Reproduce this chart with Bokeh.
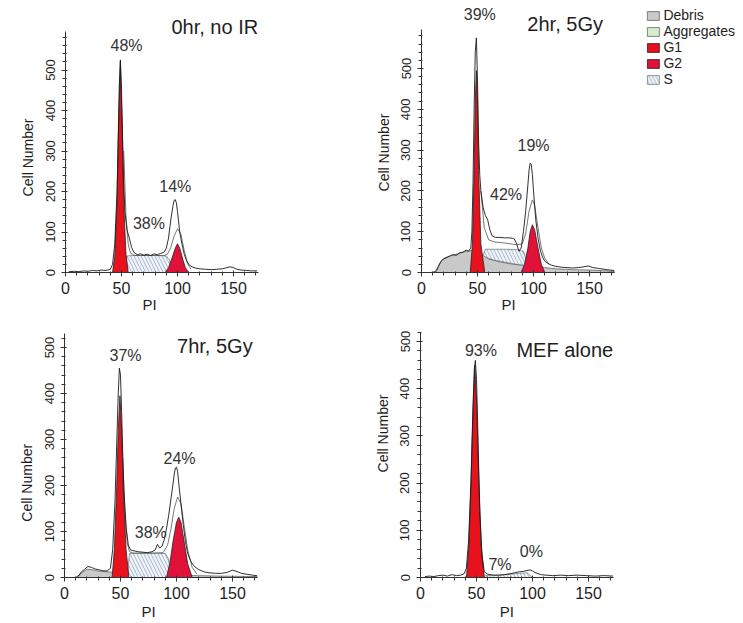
import math
from bokeh.plotting import figure
from bokeh.models import Label, SingleIntervalTicker, Legend, LegendItem, LinearAxis
from bokeh.layouts import row, column
from bokeh.embed import file_html
from bokeh.resources import INLINE

FONT = "Liberation Sans"

# ---------------- Panel A : 0hr, no IR ----------------
A_X = [3, 8, 12, 16, 20, 24, 28, 32, 36, 40, 42, 44, 46, 47, 48, 49, 50, 51, 52, 53,
       55, 57, 59, 61, 64, 67, 70, 73, 76, 79, 82, 85, 88, 90, 92, 94, 96, 97, 98, 99,
       100, 101, 102, 104, 106, 108, 110, 113, 116, 120, 125, 130, 135, 140, 144, 147, 150, 153, 157, 162,
       166, 171]
A_N = [2, 3, 2, 4, 3, 5, 4, 6, 5, 8, 20, 70, 200, 330, 460, 525, 450, 330, 220, 150,
       104, 85, 62, 50, 44, 46, 43, 45, 42, 46, 44, 47, 50, 60, 85, 130, 165, 178, 180, 172,
       150, 125, 100, 70, 45, 30, 20, 14, 11, 9, 8, 7, 8, 9, 12, 14, 12, 8, 6, 5,
       4, 4]
A_FIT_X = [52, 54, 56, 58, 62, 70, 80, 88, 91, 94, 97, 100, 103, 106, 109, 112]
A_FIT_Y = [300, 140, 70, 48, 42, 42, 42, 42, 45, 62, 90, 108, 95, 55, 22, 8]
A_G1_X = [42, 44, 46, 47.5, 49, 50.5, 52, 54, 56]
A_G1_Y = [0, 40, 170, 370, 520, 370, 170, 45, 0]
A_G2_X = [89, 92, 95, 98, 100, 102, 105, 107, 110]
A_G2_Y = [0, 12, 35, 60, 71, 60, 30, 12, 0]
A_S_X = [53, 55, 60, 70, 80, 90, 93, 95]
A_S_TOP = [0, 41, 42, 42, 42, 41, 30, 0]
A_S_BOT = [0, 0, 0, 0, 0, 0, 0, 0]
A_PCT = ["48%", "38%", "14%"]
A_PCT_X = [54.5, 74.5, 98]
A_PCT_Y = [560, 121, 212]

# ---------------- Panel B : 2hr, 5Gy ----------------
B_X = [8, 11, 13, 15, 17, 19, 22, 25, 28, 31, 34, 37, 40, 42, 44, 45, 46, 47, 48, 49,
       50, 51, 52, 53, 55, 57, 59, 61, 63, 66, 70, 74, 78, 81, 83, 85, 87, 89, 91, 93,
       95, 96, 97, 98, 99, 100, 102, 104, 106, 108, 110, 113, 116, 120, 125, 130, 135, 140, 145, 149,
       153, 158, 163, 168, 172]
B_N = [0, 1, 4, 15, 25, 32, 36, 40, 44, 42, 48, 50, 55, 52, 60, 100, 220, 400, 540, 575,
       470, 320, 240, 200, 160, 140, 130, 105, 90, 86, 86, 85, 85, 84, 82, 70, 52, 60, 100, 150,
       215, 250, 268, 265, 240, 200, 130, 85, 55, 38, 28, 22, 18, 15, 13, 12, 11, 12, 14, 16,
       12, 10, 8, 6, 5]
B_FIT_X = [53, 56, 60, 65, 75, 85, 90, 93, 96, 99, 101, 104, 107, 110, 114]
B_FIT_Y = [200, 110, 80, 75, 72, 68, 70, 95, 150, 178, 165, 110, 60, 35, 20]
B_DEB_X = [12, 14, 16, 18, 21, 25, 30, 35, 40, 45, 50, 55, 60, 70, 80, 90, 100, 110, 120, 135, 150, 165, 172]
B_DEB_Y = [0, 5, 20, 30, 36, 40, 44, 48, 52, 54, 52, 42, 33, 26, 21, 18, 15, 12, 9, 7, 6, 4, 3]
B_AGG_X = [108, 115, 130, 150, 172]
B_AGG_Y = [0, 2, 3, 3, 2]
B_G1_X = [43.5, 45.5, 47, 48, 49, 50, 51, 53, 56.5]
B_G1_Y = [0, 70, 250, 420, 495, 420, 250, 70, 0]
B_G2_X = [89, 92, 95, 97, 99, 101, 104, 107, 110]
B_G2_Y = [0, 20, 60, 100, 117, 105, 60, 20, 0]
B_S_X = [55, 57, 65, 75, 85, 91, 95]
B_S_TOP = [42, 57, 57, 57, 56, 52, 17]
B_S_BOT = [42, 38, 30, 25, 20, 18, 17]
B_PCT = ["39%", "42%", "19%"]
B_PCT_X = [52, 75.5, 100]
B_PCT_Y = [632, 191, 311]

# ---------------- Panel C : 7hr, 5Gy ----------------
C_X = [10, 13, 15, 18, 21, 24, 27, 30, 34, 38, 41, 43, 45, 46, 47, 48, 49, 50, 51, 52,
       53, 55, 57, 59, 62, 66, 70, 74, 78, 81, 83, 85, 87, 89, 91, 93, 95, 97, 98, 99,
       100, 101, 102, 104, 106, 108, 110, 113, 116, 120, 125, 130, 135, 140, 145, 150, 154, 158, 163, 168,
       172]
C_N = [0, 5, 12, 18, 24, 22, 19, 17, 15, 14, 20, 60, 160, 240, 320, 400, 455, 440, 360, 270,
       190, 110, 70, 60, 58, 56, 55, 54, 56, 60, 72, 64, 68, 82, 105, 135, 170, 205, 225, 238,
       240, 230, 205, 160, 115, 78, 52, 34, 24, 17, 12, 10, 9, 9, 11, 16, 13, 9, 7, 5,
       4]
C_FIT_X = [52, 54, 56, 58, 62, 70, 80, 88, 92, 95, 98, 101, 104, 107, 110, 114, 118]
C_FIT_Y = [260, 140, 75, 56, 53, 53, 53, 54, 70, 105, 150, 175, 160, 110, 60, 22, 8]
C_DEB_X = [12, 15, 20, 25, 30, 40, 50, 60, 80, 100, 120, 140, 172]
C_DEB_Y = [0, 10, 18, 17, 14, 12, 10, 8, 6, 5, 4, 3, 2]
C_G1_X = [42.5, 44.5, 46.5, 48, 49.5, 51, 52.5, 55, 57.5]
C_G1_Y = [0, 60, 190, 320, 395, 320, 190, 60, 0]
C_G2_X = [91, 94, 97, 100, 102, 104, 107, 110, 114]
C_G2_Y = [0, 30, 80, 120, 131, 120, 75, 30, 0]
C_S_X = [56, 58, 70, 80, 90, 93, 95]
C_S_TOP = [0, 52, 53, 53, 52, 40, 0]
C_S_BOT = [0, 0, 0, 0, 0, 0, 0]
C_PCT = ["37%", "38%", "24%"]
C_PCT_X = [54.5, 77, 102.7]
C_PCT_Y = [483, 98, 259]

# ---------------- Panel D : MEF alone ----------------
D_X = [4, 8, 12, 16, 20, 24, 28, 32, 36, 39, 41, 43, 45, 46, 47, 48, 49, 50, 51, 52,
       53, 55, 57, 60, 65, 70, 75, 80, 84, 88, 92, 95, 98, 100, 102, 105, 108, 112, 118, 125,
       132, 140, 148, 156, 164, 172]
D_N = [2, 3, 2, 4, 5, 3, 6, 4, 5, 8, 20, 80, 200, 290, 370, 440, 460, 420, 330, 230,
       140, 45, 12, 7, 5, 5, 6, 8, 10, 12, 13, 15, 16, 14, 11, 8, 6, 5, 4, 5,
       4, 5, 4, 3, 4, 3]
D_G1_X = [41, 43, 45, 47, 48.5, 50, 52, 54, 57]
D_G1_Y = [0, 60, 190, 360, 450, 380, 210, 70, 0]
D_S_X = [55, 58, 70, 85, 95, 100]
D_S_TOP = [0, 4, 5, 8, 10, 0]
D_S_BOT = [0, 0, 0, 0, 0, 0]
D_PCT = ["93%", "7%", "0%"]
D_PCT_X = [54, 71, 99]
D_PCT_Y = [481, 27, 55]

TITLES = ["0hr, no IR", "2hr, 5Gy", "7hr, 5Gy", "MEF alone"]
TITLE_X = [172, 162, 168, 172]
TITLE_Y = [605, 608, 504, 483]
YLAB_Y = [284, 294, 206, 305]
XLAB_X = [75, 77.7, 75, 77]
Y_MAX_TICK = [595, 595, 530, 520]

LEGEND_LABELS = ["Debris", "Aggregates", "G1", "G2", "S"]

C_DEBRIS = "#c9c9c9"
C_AGG = "#d4eecb"
C_G1 = "#e8121c"
C_G2 = "#e0123a"
C_S = "#f1f5fa"
C_HATCH = "#8ea6c2"
C_TXT = "#1e1e1e"


def make_fig(width, height, x0_px, y0_px, px_per_x, px_per_y, y_bound):
    """Frame covers the whole figure; axes are drawn at data zero."""
    x_start = -x0_px / px_per_x
    x_end = (width - x0_px) / px_per_x
    y_end = y0_px / px_per_y
    y_start = -(height - y0_px) / px_per_y
    p = figure(width=width, height=height, x_range=(x_start, x_end), y_range=(y_start, y_end),
               output_backend="svg", toolbar_location=None,
               x_axis_location=None, y_axis_location=None,
               min_border_left=0, min_border_right=0, min_border_top=0, min_border_bottom=0)
    p.outline_line_color = None
    p.xgrid.grid_line_color = None
    p.ygrid.grid_line_color = None
    p.background_fill_color = "white"
    p.border_fill_color = "white"
    xa = LinearAxis(fixed_location=0, bounds=(0, 172),
                    ticker=SingleIntervalTicker(interval=50, num_minor_ticks=5))
    ya = LinearAxis(fixed_location=0, bounds=(0, y_bound),
                    ticker=SingleIntervalTicker(interval=100, num_minor_ticks=5))
    for ax in (xa, ya):
        ax.axis_line_color = "#333333"
        ax.axis_line_width = 1
        ax.major_tick_line_color = "#333333"
        ax.minor_tick_line_color = "#333333"
        ax.major_tick_out = 4
        ax.major_tick_in = 2
        ax.minor_tick_out = 3
        ax.minor_tick_in = 1
        ax.major_label_text_font = FONT
        ax.major_label_text_color = C_TXT
    xa.major_label_text_font_size = "16px"
    xa.major_label_standoff = 5
    ya.major_label_text_font_size = "13px"
    ya.major_label_orientation = "vertical"
    ya.major_label_standoff = 7
    p.add_layout(xa, "below")
    p.add_layout(ya, "left")
    return p


def add_texts(p, idx, pct, pct_x, pct_y, xlab_off):
    p.add_layout(Label(x=TITLE_X[idx], y=TITLE_Y[idx], text=TITLES[idx], text_align="right",
                       text_baseline="middle", text_font=FONT, text_font_size="20px",
                       text_color=C_TXT))
    for t, xx, yy in zip(pct, pct_x, pct_y):
        p.add_layout(Label(x=xx, y=yy, text=t, text_align="center", text_baseline="middle",
                           text_font=FONT, text_font_size="16px", text_color="#333333"))
    p.add_layout(Label(x=0, y=YLAB_Y[idx], x_offset=-38, angle=math.pi / 2, text="Cell Number",
                       text_align="center", text_baseline="middle", text_font=FONT,
                       text_font_size="14px", text_color=C_TXT))
    p.add_layout(Label(x=XLAB_X[idx], y=0, y_offset=xlab_off, text="PI", text_align="center",
                       text_baseline="middle", text_font=FONT, text_font_size="15px",
                       text_color=C_TXT))


def draw_panel(p, xs, ns, g1x, g1y, g2x, g2y, sx, stop, sbot, fitx=None, fity=None,
               debx=None, deby=None):
    rend = {}
    if debx is not None:
        rend["deb"] = p.patch(debx + [debx[-1], debx[0]], deby + [0, 0], fill_color=C_DEBRIS,
                              line_color="#555555", line_width=0.7)
    rend["s"] = p.patch(sx + sx[::-1], stop + sbot[::-1], fill_color=C_S, line_color="#555555",
                        line_width=0.6, hatch_pattern="left_diagonal_line", hatch_color=C_HATCH,
                        hatch_scale=7, hatch_weight=0.8)
    rend["g1"] = p.patch(g1x, g1y, fill_color=C_G1, line_color="#222222", line_width=0.8)
    if g2x is not None:
        rend["g2"] = p.patch(g2x, g2y, fill_color=C_G2, line_color="#222222", line_width=0.8)
    if fitx is not None:
        p.line(fitx, fity, line_color="#555555", line_width=0.8)
    p.line(xs, ns, line_color="#1a1a1a", line_width=0.9)
    return rend


# Panel A
pA = make_fig(363, 313, 65, 272, 1.12, 0.405, Y_MAX_TICK[0])
draw_panel(pA, A_X, A_N, A_G1_X, A_G1_Y, A_G2_X, A_G2_Y, A_S_X, A_S_TOP, A_S_BOT, A_FIT_X, A_FIT_Y)
add_texts(pA, 0, A_PCT, A_PCT_X, A_PCT_Y, -32)

# Panel B (with legend)
pB = make_fig(379, 313, 58, 272, 1.12, 0.408, Y_MAX_TICK[1])
agg = pB.patch(B_AGG_X + [B_AGG_X[-1], B_AGG_X[0]], B_AGG_Y + [0, 0], fill_color=C_AGG,
               line_color="#555555", line_width=0.7)
rB = draw_panel(pB, B_X, B_N, B_G1_X, B_G1_Y, B_G2_X, B_G2_Y, B_S_X, B_S_TOP, B_S_BOT,
                B_FIT_X, B_FIT_Y, B_DEB_X, B_DEB_Y)
add_texts(pB, 1, B_PCT, B_PCT_X, B_PCT_Y, -32)
legend_renderers = [rB["deb"], agg, rB["g1"], rB["g2"], rB["s"]]
legend = Legend(items=[LegendItem(label=l, renderers=[r]) for l, r in zip(LEGEND_LABELS, legend_renderers)],
                location="top_right", orientation="vertical",
                label_text_font=FONT, label_text_font_size="14px", label_text_color=C_TXT,
                glyph_width=15, glyph_height=11, label_height=11, spacing=0, padding=0, margin=7,
                label_standoff=3, border_line_color=None, background_fill_alpha=0)
pB.add_layout(legend)

# Panel C
pC = make_fig(363, 310, 64, 264, 1.12, 0.46, Y_MAX_TICK[2])
draw_panel(pC, C_X, C_N, C_G1_X, C_G1_Y, C_G2_X, C_G2_Y, C_S_X, C_S_TOP, C_S_BOT, C_FIT_X, C_FIT_Y,
           C_DEB_X, C_DEB_Y)
add_texts(pC, 2, C_PCT, C_PCT_X, C_PCT_Y, -34)

# Panel D
pD = make_fig(379, 310, 57, 264, 1.12, 0.472, Y_MAX_TICK[3])
draw_panel(pD, D_X, D_N, D_G1_X, D_G1_Y, None, None, D_S_X, D_S_TOP, D_S_BOT)
add_texts(pD, 3, D_PCT, D_PCT_X, D_PCT_Y, -34)

layout = column(row(pA, pB), row(pC, pD))
open("out.html", "w").write(file_html(layout, INLINE))
